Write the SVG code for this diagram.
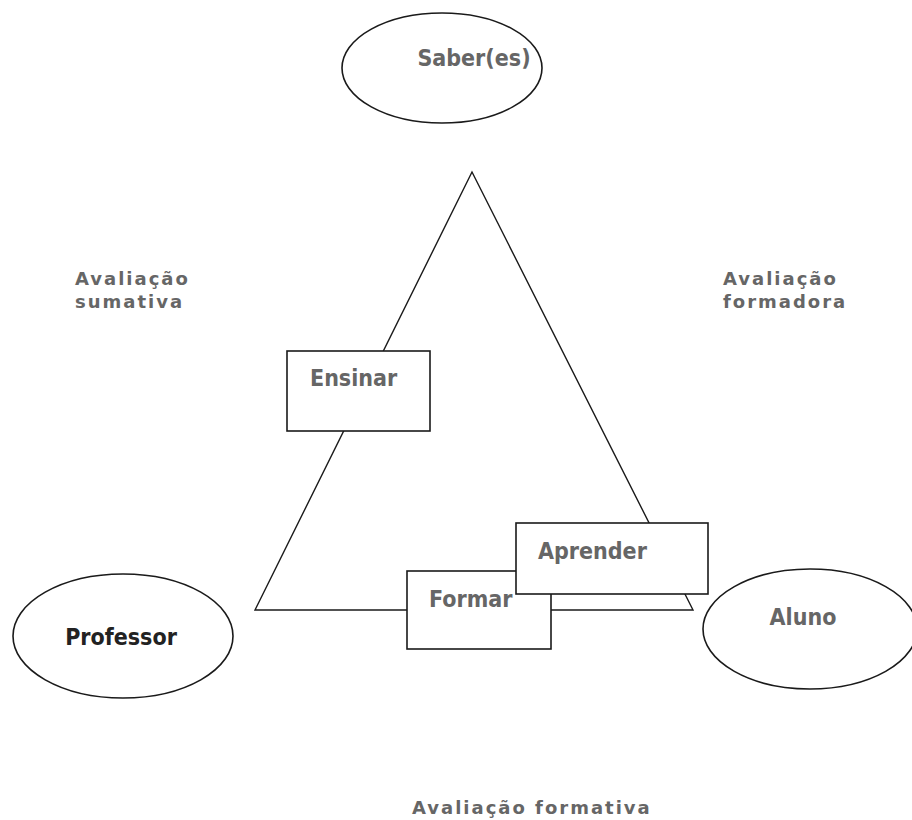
<svg xmlns="http://www.w3.org/2000/svg" width="912" height="820" viewBox="0 0 912 820">
<style>
.sh{fill:#fff;stroke:#1a1a1a;stroke-width:1.6}
.ln{fill:none;stroke:#1a1a1a;stroke-width:1.4}
.t{font-family:"DejaVu Sans Condensed","DejaVu Sans",Verdana,sans-serif;font-stretch:condensed;font-weight:bold;font-size:23px;fill:#666}
.lab{font-family:"DejaVu Sans",Verdana,sans-serif;font-weight:bold;font-size:18px;fill:#666;letter-spacing:2px}
</style>
<rect width="912" height="820" fill="#fff"/>
<g id="connectors">
<polygon class="ln" points="472,172 255,610 693,610"/>
</g>
<g id="saber">
<ellipse class="sh" cx="442" cy="68" rx="100" ry="55"/>
<text class="t" x="474" y="66" text-anchor="middle">Saber(es)</text>
</g>
<g id="professor">
<ellipse class="sh" cx="123" cy="636" rx="110" ry="62"/>
<text class="t" x="121" y="645" text-anchor="middle" style="fill:#222">Professor</text>
</g>
<g id="aluno">
<ellipse class="sh" cx="810" cy="629" rx="107" ry="60"/>
<text class="t" x="803" y="625" text-anchor="middle">Aluno</text>
</g>
<g id="ensinar">
<rect class="sh" x="287" y="351" width="143" height="80"/>
<text class="t" x="310" y="386">Ensinar</text>
</g>
<g id="formar">
<rect class="sh" x="407" y="571" width="144" height="78"/>
<text class="t" x="429" y="607">Formar</text>
</g>
<g id="aprender">
<rect class="sh" x="516" y="523" width="192" height="71"/>
<text class="t" x="538" y="559">Aprender</text>
</g>
<g id="labels">
<text class="lab" x="75" y="285">Avaliação</text>
<text class="lab" x="75" y="308">sumativa</text>
<text class="lab" x="723" y="285">Avaliação</text>
<text class="lab" x="723" y="308">formadora</text>
<text class="lab" x="412" y="814">Avaliação formativa</text>
</g>
</svg>
